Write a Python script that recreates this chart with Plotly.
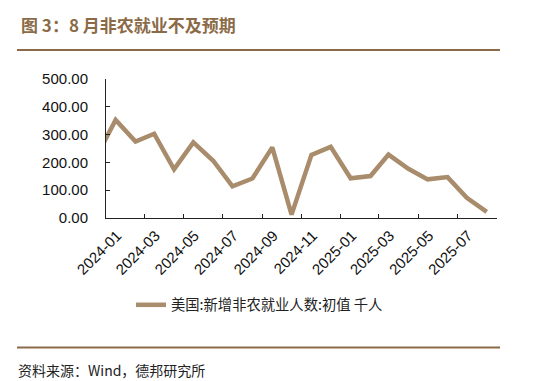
import pandas as pd
import plotly.graph_objects as go

# ---- data ----
months = ["2023-12", "2024-01", "2024-02", "2024-03", "2024-04", "2024-05", "2024-06",
          "2024-07", "2024-08", "2024-09", "2024-10", "2024-11", "2024-12",
          "2025-01", "2025-02", "2025-03", "2025-04", "2025-05", "2025-06",
          "2025-07", "2025-08"]
payrolls = [216, 353, 275, 303, 175, 272, 206, 114, 142, 254, 12, 227, 256,
            143, 151, 228, 177, 139, 147, 73, 22]
tick_months = ["2024-01", "2024-03", "2024-05", "2024-07", "2024-09", "2024-11",
               "2025-01", "2025-03", "2025-05", "2025-07", "2025-09"]
tick_labels = ["2024-01", "2024-03", "2024-05", "2024-07", "2024-09", "2024-11",
               "2025-01", "2025-03", "2025-05", "2025-07", ""]
y_ticks = [0, 100, 200, 300, 400, 500]
series_name = "美国:新增非农就业人数:初值 千人"
title_text = "图 3：8 月非农就业不及预期"
source_text = "资料来源：Wind，德邦研究所"

# ---- layout geometry (pixels) ----
W, H = 553, 381
L, R, T, B = 106, 56, 79, 163
pw, ph = W - L - R, H - T - B

def px_x(x):
    return (x - L) / pw

def px_y(y):
    return (H - B - y) / ph

x_dates = pd.to_datetime(months) + pd.Timedelta(days=15)

BROWN = "#8b6b47"
LINE = "#a88c6b"
CJK = "Noto Sans CJK SC"
LAT = "Liberation Sans, Arial"

fig = go.Figure()
fig.add_trace(go.Scatter(
    x=x_dates, y=payrolls, mode="lines", name=series_name,
    line=dict(color=LINE, width=4.5), showlegend=True,
))

fig.update_layout(
    width=W, height=H,
    margin=dict(l=L, r=R, t=T, b=B),
    paper_bgcolor="white", plot_bgcolor="white",
    showlegend=True,
    legend=dict(
        orientation="h", x=px_x(131), xanchor="left", y=px_y(305), yanchor="middle",
        font=dict(family=CJK, size=14.3, color="#222"),
        bgcolor="rgba(0,0,0,0)", itemwidth=30,
    ),
    xaxis=dict(
        type="date",
        range=["2024-01-01", "2025-09-01"],
        tickmode="array",
        tickvals=pd.to_datetime(tick_months),
        ticktext=tick_labels,
        tickangle=-45,
        ticks="inside", ticklen=4, tickcolor="#222",
        showline=True, linecolor="#222", linewidth=1,
        showgrid=False, zeroline=False,
        tickfont=dict(family=LAT, size=15, color="#111"),
        ticklabelshift=11,
        ticklabelstandoff=2,
    ),
    yaxis=dict(
        range=[0, 500],
        tickmode="array", tickvals=y_ticks,
        tickformat=".2f",
        ticks="inside", ticklen=4, tickcolor="#222",
        showline=True, linecolor="#222", linewidth=1,
        showgrid=False, zeroline=False,
        tickfont=dict(family=LAT, size=15, color="#111"),
        ticklabelstandoff=14,
    ),
)

# title
fig.add_annotation(
    text="<b>" + title_text + "</b>", xref="paper", yref="paper",
    x=px_x(19), y=px_y(25), xanchor="left", yanchor="middle", showarrow=False,
    font=dict(family=CJK, size=17, color=BROWN),
)
# source
fig.add_annotation(
    text=source_text, xref="paper", yref="paper",
    x=px_x(16), y=px_y(370), xanchor="left", yanchor="middle", showarrow=False,
    font=dict(family=CJK, size=14, color="#222"),
)
# rules
for yy in (50, 347.5):
    fig.add_shape(type="line", xref="paper", yref="paper",
                  x0=px_x(17), x1=px_x(500), y0=px_y(yy), y1=px_y(yy),
                  line=dict(color=BROWN, width=2.2))

fig.write_html(
    "out.html",
    config={"displayModeBar": False},
    post_script="document.body.style.margin='0';document.body.style.overflow='hidden';",
)
